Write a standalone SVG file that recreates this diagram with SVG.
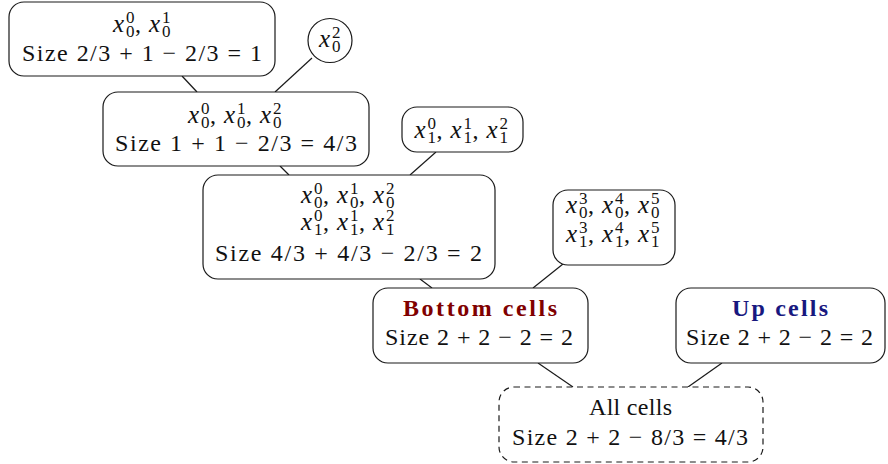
<svg xmlns="http://www.w3.org/2000/svg" width="888" height="464" viewBox="0 0 888 464">
<style>
.box{fill:#fff;stroke:#1a1a1a;stroke-width:1.2}
.dash{stroke-dasharray:6,4.5}
.t{font-family:"Liberation Serif","DejaVu Serif",serif;font-size:24px;fill:#111}
.i{font-style:italic;font-size:25px}
.s{font-style:normal;font-size:17px}
.n{font-style:normal;font-size:24px}
.c{stroke:#1a1a1a;stroke-width:1.2;fill:none}
.b{font-weight:bold}
</style>
<g id="connectors">
<line class="c" x1="182" y1="76" x2="197" y2="92"/>
<line class="c" x1="312" y1="58" x2="275" y2="92"/>
<line class="c" x1="280" y1="166" x2="289" y2="175"/>
<line class="c" x1="436" y1="152" x2="410" y2="175"/>
<line class="c" x1="420" y1="279" x2="432" y2="288"/>
<line class="c" x1="563" y1="264" x2="533" y2="288"/>
<line class="c" x1="538" y1="363" x2="573" y2="387"/>
<line class="c" x1="722" y1="363" x2="688" y2="387"/>
</g>
<g id="n1">
<rect class="box" x="9" y="2" width="266" height="74" rx="15"/>
<text class="t"><tspan class="i" x="113" y="32">x</tspan><tspan class="s" x="126" y="23">0</tspan><tspan class="s" x="126" y="37">0</tspan><tspan class="n" x="135" y="32">,</tspan><tspan class="i" x="149" y="32">x</tspan><tspan class="s" x="162" y="23">1</tspan><tspan class="s" x="162" y="37">0</tspan></text>
<text class="t" x="22" y="61" textLength="240" lengthAdjust="spacing">Size 2/3 + 1 − 2/3 = 1</text>
</g>
<g id="n2">
<rect class="box" x="308" y="18.5" width="44" height="44" rx="22"/>
<text class="t"><tspan class="i" x="319" y="47">x</tspan><tspan class="s" x="332" y="38">2</tspan><tspan class="s" x="332" y="52">0</tspan></text>
</g>
<g id="n3">
<rect class="box" x="103" y="92" width="266" height="74" rx="15"/>
<text class="t"><tspan class="i" x="188" y="123">x</tspan><tspan class="s" x="201" y="114">0</tspan><tspan class="s" x="201" y="128">0</tspan><tspan class="n" x="210" y="123">,</tspan><tspan class="i" x="224" y="123">x</tspan><tspan class="s" x="237" y="114">1</tspan><tspan class="s" x="237" y="128">0</tspan><tspan class="n" x="246" y="123">,</tspan><tspan class="i" x="260" y="123">x</tspan><tspan class="s" x="273" y="114">2</tspan><tspan class="s" x="273" y="128">0</tspan></text>
<text class="t" x="115" y="151" textLength="242" lengthAdjust="spacing">Size 1 + 1 − 2/3 = 4/3</text>
</g>
<g id="n4">
<rect class="box" x="402" y="107" width="121" height="45" rx="15"/>
<text class="t"><tspan class="i" x="414.5" y="138">x</tspan><tspan class="s" x="427.5" y="129">0</tspan><tspan class="s" x="427.5" y="143">1</tspan><tspan class="n" x="436.5" y="138">,</tspan><tspan class="i" x="450.5" y="138">x</tspan><tspan class="s" x="463.5" y="129">1</tspan><tspan class="s" x="463.5" y="143">1</tspan><tspan class="n" x="472.5" y="138">,</tspan><tspan class="i" x="486.5" y="138">x</tspan><tspan class="s" x="499.5" y="129">2</tspan><tspan class="s" x="499.5" y="143">1</tspan></text>
</g>
<g id="n5">
<rect class="box" x="203" y="175" width="292" height="104" rx="15"/>
<text class="t"><tspan class="i" x="301" y="203">x</tspan><tspan class="s" x="314" y="194">0</tspan><tspan class="s" x="314" y="208">0</tspan><tspan class="n" x="323" y="203">,</tspan><tspan class="i" x="337" y="203">x</tspan><tspan class="s" x="350" y="194">1</tspan><tspan class="s" x="350" y="208">0</tspan><tspan class="n" x="359" y="203">,</tspan><tspan class="i" x="373" y="203">x</tspan><tspan class="s" x="386" y="194">2</tspan><tspan class="s" x="386" y="208">0</tspan></text>
<text class="t"><tspan class="i" x="301" y="230">x</tspan><tspan class="s" x="314" y="221">0</tspan><tspan class="s" x="314" y="235">1</tspan><tspan class="n" x="323" y="230">,</tspan><tspan class="i" x="337" y="230">x</tspan><tspan class="s" x="350" y="221">1</tspan><tspan class="s" x="350" y="235">1</tspan><tspan class="n" x="359" y="230">,</tspan><tspan class="i" x="373" y="230">x</tspan><tspan class="s" x="386" y="221">2</tspan><tspan class="s" x="386" y="235">1</tspan></text>
<text class="t" x="215" y="261" textLength="267" lengthAdjust="spacing">Size 4/3 + 4/3 − 2/3 = 2</text>
</g>
<g id="n6">
<rect class="box" x="553" y="190" width="122" height="75" rx="15"/>
<text class="t"><tspan class="i" x="566" y="213">x</tspan><tspan class="s" x="579" y="204">3</tspan><tspan class="s" x="579" y="218">0</tspan><tspan class="n" x="588" y="213">,</tspan><tspan class="i" x="602" y="213">x</tspan><tspan class="s" x="615" y="204">4</tspan><tspan class="s" x="615" y="218">0</tspan><tspan class="n" x="624" y="213">,</tspan><tspan class="i" x="638" y="213">x</tspan><tspan class="s" x="651" y="204">5</tspan><tspan class="s" x="651" y="218">0</tspan></text>
<text class="t"><tspan class="i" x="566" y="242">x</tspan><tspan class="s" x="579" y="233">3</tspan><tspan class="s" x="579" y="247">1</tspan><tspan class="n" x="588" y="242">,</tspan><tspan class="i" x="602" y="242">x</tspan><tspan class="s" x="615" y="233">4</tspan><tspan class="s" x="615" y="247">1</tspan><tspan class="n" x="624" y="242">,</tspan><tspan class="i" x="638" y="242">x</tspan><tspan class="s" x="651" y="233">5</tspan><tspan class="s" x="651" y="247">1</tspan></text>
</g>
<g id="n7">
<rect class="box" x="373" y="288" width="215" height="75" rx="15"/>
<text class="t b" x="403" y="316" textLength="154" lengthAdjust="spacing" style="fill:#800000">Bottom cells</text>
<text class="t" x="385" y="345" textLength="188" lengthAdjust="spacing">Size 2 + 2 − 2 = 2</text>
</g>
<g id="n8">
<rect class="box" x="676" y="288" width="209" height="75" rx="15"/>
<text class="t b" x="732" y="316" textLength="96" lengthAdjust="spacing" style="fill:#18187f">Up cells</text>
<text class="t" x="686" y="345" textLength="187" lengthAdjust="spacing">Size 2 + 2 − 2 = 2</text>
</g>
<g id="n9">
<rect class="box dash" x="499" y="387" width="264" height="75" rx="15"/>
<text class="t" x="589" y="415" textLength="83" lengthAdjust="spacing">All cells</text>
<text class="t" x="512" y="445" textLength="236" lengthAdjust="spacing">Size 2 + 2 − 8/3 = 4/3</text>
</g>
</svg>
